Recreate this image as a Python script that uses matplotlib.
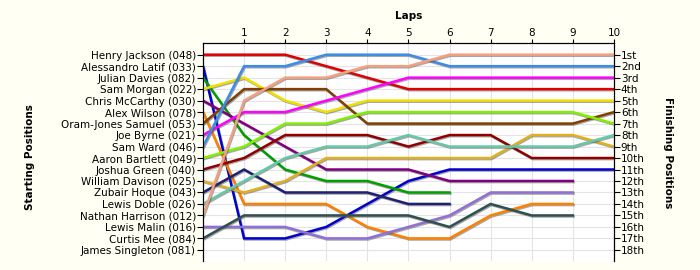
import matplotlib.pyplot as plt
import matplotlib.patheffects as pe

drivers = ['Henry Jackson (048)', 'Alessandro Latif (033)', 'Julian Davies (082)',
           'Sam Morgan (022)', 'Chris McCarthy (030)', 'Alex Wilson (078)',
           'Oram-Jones Samuel (053)', 'Joe Byrne (021)', 'Sam Ward (046)',
           'Aaron Bartlett (049)', 'Joshua Green (040)', 'William Davison (025)',
           'Zubair Hoque (043)', 'Lewis Doble (026)', 'Nathan Harrison (012)',
           'Lewis Malin (016)', 'Curtis Mee (084)', 'James Singleton (081)']

# position after each lap (lap 0 = grid), one list per driver in grid order
positions = [
    [1, 1, 1, 2, 3, 4, 4, 4, 4, 4, 4],
    [2, 17, 17, 16, 14, 12, 11, 11, 11, 11, 11],
    [3, 8, 11, 12, 12, 13, 13],
    [4, 3, 5, 6, 5, 5, 5, 5, 5, 5, 5],
    [5, 7, 9, 11, 11, 11, 12, 12, 12, 12],
    [6, 14, 14, 14, 16, 17, 17, 15, 14, 14],
    [7, 4, 4, 4, 7, 7, 7, 7, 7, 7, 6],
    [8, 6, 6, 5, 4, 3, 3, 3, 3, 3, 3],
    [9, 2, 2, 1, 1, 1, 2, 2, 2, 2, 2],
    [10, 9, 7, 7, 6, 6, 6, 6, 6, 6, 7],
    [11, 10, 8, 8, 8, 9, 8, 8, 10, 10, 10],
    [12, 13, 12, 10, 10, 10, 10, 10, 8, 8, 9],
    [13, 11, 13, 13, 13, 14, 14],
    [14, 12, 10, 9, 9, 8, 9, 9, 9, 9, 8],
    [15, 5, 3, 3, 2, 2, 1, 1, 1, 1, 1],
    [16, 16, 16, 17, 17, 16, 15, 13, 13, 13],
    [17, 15, 15, 15, 15, 15, 16, 14, 15, 15],
    [],
]

finish_labels = ['1st', '2nd', '3rd', '4th', '5th', '6th', '7th', '8th', '9th',
                 '10th', '11th', '12th', '13th', '14th', '15th', '16th', '17th', '18th']
laps = list(range(1, 11))

colors = ['#E00000', '#0000D0', '#00A000', '#F0E000', '#800080', '#FF8000',
          '#804000', '#FF00FF', '#3C8CE8', '#80F000', '#900000', '#E0B020',
          '#202070', '#66C8A8', '#F4A080', '#9070D8', '#305050', '#000000']

bg = '#FFFFF4'
fig = plt.figure(figsize=(7, 2.7), dpi=100, facecolor=bg)
ax = fig.add_axes([0.29, 0.032, 0.587, 0.808])
ax.set_facecolor('white')

shadow = [pe.SimpleLineShadow(offset=(0.6, -0.8), shadow_color='#505050', alpha=0.5),
          pe.Normal()]
for pos, c in zip(positions, colors):
    if pos:
        ax.plot(range(len(pos)), pos, color=c, lw=1.8, solid_joinstyle='miter',
                path_effects=shadow, zorder=3)

ax.set_xlim(0, 10)
ax.set_ylim(19, 0)
ax.set_yticks(range(1, 19))
ax.set_yticklabels(drivers, fontsize=7.5)
ax.set_xticks(laps)
ax.set_xticklabels([str(l) for l in laps], fontsize=7.5)
ax.xaxis.tick_top()
ax.tick_params(axis='x', length=3, pad=1)
ax.tick_params(axis='y', length=4, pad=1)
ax.grid(True, color='#E4E4E4', lw=0.8, zorder=0)
ax.spines['bottom'].set_visible(False)
ax.set_xlabel('Laps', fontsize=7.5, fontweight='bold', labelpad=6)
ax.xaxis.set_label_position('top')
ax.set_ylabel('Starting Positions', fontsize=7.5, fontweight='bold',
              ha='center', va='center')
ax.yaxis.set_label_coords(-0.42, 0.48)

ax2 = ax.twinx()
ax2.set_ylim(19, 0)
ax2.set_yticks(range(1, 19))
ax2.set_yticklabels(finish_labels, fontsize=7.5)
ax2.tick_params(axis='y', length=4, pad=1)
ax2.spines['bottom'].set_visible(False)
ax2.set_ylabel('Finishing Positions', fontsize=7.5, fontweight='bold',
               rotation=-90, ha='center', va='center')
ax2.yaxis.set_label_coords(1.131, 0.5)

fig.savefig('out.png', dpi=100, facecolor=bg)
